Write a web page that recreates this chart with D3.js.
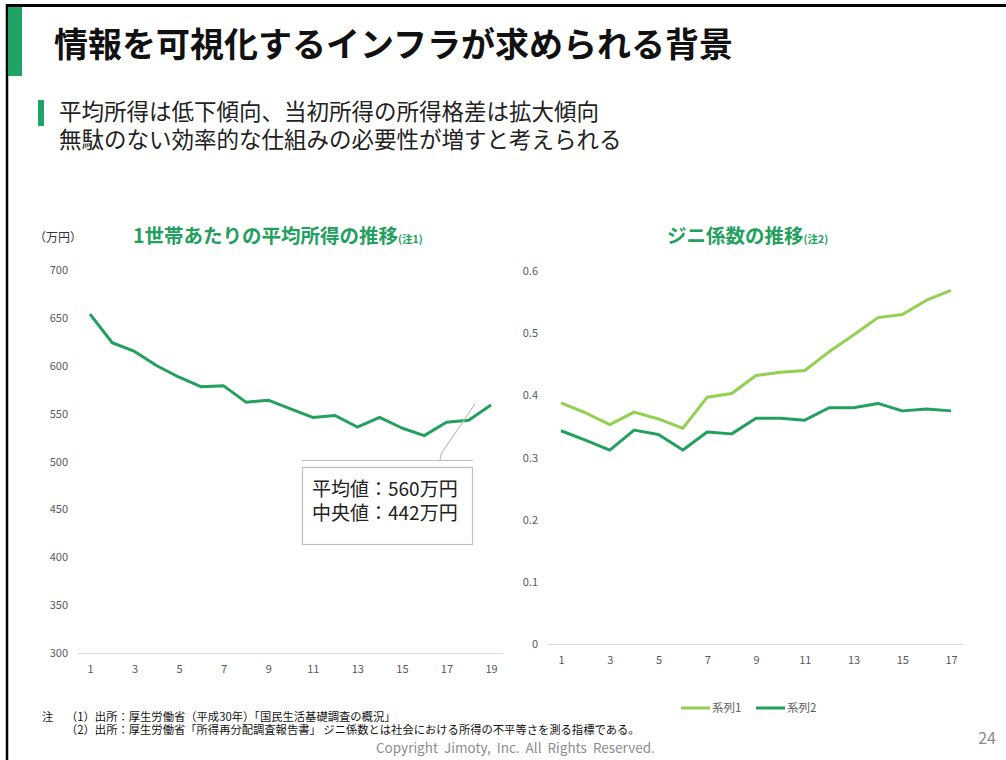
<!DOCTYPE html>
<html>
<head>
<meta charset="utf-8">
<script src="https://cdn.jsdelivr.net/npm/d3@7"></script>
<style>
  body { margin: 0; background: #fff; }
  svg text { font-family: "Noto Sans CJK JP", "Noto Sans", sans-serif; }
</style>
</head>
<body>
<svg id="slide" width="1006" height="760"></svg>
<script>
// left chart: average household income (万円)
var incomeYears = d3.range(1, 20);
var incomeValues = [654, 624, 615, 600, 588, 578, 579, 562, 564, 555, 546, 548, 536, 546, 535, 527, 541, 543, 559];
var incomeTicks = [300, 350, 400, 450, 500, 550, 600, 650, 700];

// right chart: gini coefficient
var giniYears = d3.range(1, 18);
var giniSeries1 = [0.388, 0.372, 0.353, 0.373, 0.362, 0.347, 0.397, 0.403, 0.432, 0.437, 0.440, 0.470, 0.497, 0.525, 0.530, 0.553, 0.569];
var giniSeries2 = [0.343, 0.328, 0.312, 0.344, 0.337, 0.312, 0.341, 0.338, 0.363, 0.363, 0.360, 0.380, 0.380, 0.387, 0.375, 0.378, 0.375];
var giniTicks = [0, 0.1, 0.2, 0.3, 0.4, 0.5, 0.6];
var seriesNames = ['系列1', '系列2'];

var green = '#22a05d';
var lightGreen = '#92d050';
var axisGray = '#d9d9d9';
var labelGray = '#595959';

var svg = d3.select('#slide');

// frame
svg.append('line').attr('x1', 6).attr('x2', 1006).attr('y1', 5.5).attr('y2', 5.5)
  .attr('stroke', '#000').attr('stroke-width', 3);
svg.append('line').attr('x1', 7).attr('x2', 7).attr('y1', 4).attr('y2', 760)
  .attr('stroke', '#000').attr('stroke-width', 2.5);
svg.append('rect').attr('x', 8).attr('y', 7).attr('width', 14).attr('height', 69).attr('fill', '#21a366');

// heading
svg.append('text').attr('x', 54).attr('y', 57)
  .attr('font-size', 34).attr('font-weight', 'bold').attr('fill', '#111')
  .text('情報を可視化するインフラが求められる背景');

svg.append('rect').attr('x', 38).attr('y', 100).attr('width', 6).attr('height', 26).attr('fill', '#21a366');
var sub = svg.append('text').attr('font-size', 22.5).attr('fill', '#222');
sub.append('tspan').attr('x', 59).attr('y', 120).text('平均所得は低下傾向、当初所得の所得格差は拡大傾向');
sub.append('tspan').attr('x', 59).attr('y', 148).text('無駄のない効率的な仕組みの必要性が増すと考えられる');

// ---- left chart ----
var x1 = d3.scaleLinear().domain([1, 19]).range([90, 491]);
var y1 = d3.scaleLinear().domain([300, 700]).range([653, 270]);

svg.append('text').attr('x', 34).attr('y', 242).attr('font-size', 12).attr('fill', '#333').text('（万円）');

var t1 = svg.append('text').attr('x', 133).attr('y', 243).attr('font-weight', 'bold').attr('fill', green);
t1.append('tspan').attr('font-size', 19.5).text('1世帯あたりの平均所得の推移');
t1.append('tspan').attr('font-size', 10.5).text('(注1)');

var gy1 = svg.append('g').attr('transform', 'translate(68,0)')
  .call(d3.axisLeft(y1).tickValues(incomeTicks).tickSize(0).tickPadding(0));
var gx1 = svg.append('g').attr('transform', 'translate(0,653)')
  .call(d3.axisBottom(x1).tickValues(d3.range(1, 20, 2)).tickSize(0).tickPadding(12));
gx1.select('.domain').attr('d', 'M78,0.5H503').attr('stroke', axisGray);
gy1.select('.domain').remove();

svg.append('path').datum(incomeValues)
  .attr('fill', 'none').attr('stroke', green).attr('stroke-width', 3).attr('stroke-linejoin', 'round')
  .attr('d', d3.line().x(function(d, i){ return x1(incomeYears[i]); }).y(function(d){ return y1(d); }));

// callout
svg.append('path').attr('d', 'M302,460.5H473M440,460.5L441,454L475,404')
  .attr('fill', 'none').attr('stroke', '#bfbfbf').attr('stroke-width', 1.2);
svg.append('rect').attr('x', 302.5).attr('y', 467.5).attr('width', 170).attr('height', 77)
  .attr('fill', '#fff').attr('stroke', '#bfbfbf').attr('stroke-width', 1.2);
var callout = svg.append('text').attr('font-size', 19).attr('fill', '#222');
callout.append('tspan').attr('x', 312).attr('y', 496).text('平均値：560万円');
callout.append('tspan').attr('x', 312).attr('y', 520).text('中央値：442万円');

// ---- right chart ----
var x2 = d3.scaleLinear().domain([1, 17]).range([561, 951]);
var y2 = d3.scaleLinear().domain([0, 0.6]).range([644, 271]);

var t2 = svg.append('text').attr('x', 667).attr('y', 243).attr('font-weight', 'bold').attr('fill', green);
t2.append('tspan').attr('font-size', 19.5).text('ジニ係数の推移');
t2.append('tspan').attr('font-size', 10.5).text('(注2)');

var gy2 = svg.append('g').attr('transform', 'translate(538,0)')
  .call(d3.axisLeft(y2).tickValues(giniTicks).tickFormat(d3.format('~g')).tickSize(0).tickPadding(0));
gy2.select('.domain').remove();
var gx2 = svg.append('g').attr('transform', 'translate(0,644)')
  .call(d3.axisBottom(x2).tickValues(d3.range(1, 18, 2)).tickSize(0).tickPadding(12));
gx2.select('.domain').attr('d', 'M547,0.5H963').attr('stroke', axisGray);
svg.selectAll('.tick text').attr('fill', labelGray).attr('font-size', 11)
  .attr('font-family', '"Noto Sans", sans-serif');

var giniLine = d3.line().x(function(d, i){ return x2(giniYears[i]); }).y(function(d){ return y2(d); });
[giniSeries1, giniSeries2].forEach(function(s, i){
  svg.append('path').datum(s)
    .attr('fill', 'none').attr('stroke', i === 0 ? lightGreen : green)
    .attr('stroke-width', 3).attr('stroke-linejoin', 'round')
    .attr('d', giniLine);
});

// legend
var legend = svg.append('g').attr('transform', 'translate(681,708)');
seriesNames.forEach(function(name, i){
  var g = legend.append('g').attr('transform', 'translate(' + (i * 75) + ',0)');
  g.append('line').attr('x1', 0).attr('x2', 29).attr('y1', 0).attr('y2', 0)
    .attr('stroke', i === 0 ? lightGreen : green).attr('stroke-width', 3);
  g.append('text').attr('x', 31).attr('y', 4).attr('font-size', 11.5).attr('fill', labelGray).text(name);
});

// notes
svg.append('text').attr('x', 42).attr('y', 721).attr('font-size', 11.3).attr('fill', '#111').text('注');
var notes = svg.append('text').attr('font-size', 11.3).attr('fill', '#111');
notes.append('tspan').attr('x', 66).attr('y', 721)
  .text('（1）出所：厚生労働省（平成30年）「国民生活基礎調査の概況」');
notes.append('tspan').attr('x', 66).attr('y', 734)
  .text('（2）出所：厚生労働省「所得再分配調査報告書」 ジニ係数とは社会における所得の不平等さを測る指標である。');

svg.append('text').attr('x', 376).attr('y', 753).attr('font-size', 13.5).attr('fill', '#8c8c8c')
  .attr('font-family', '"Noto Sans", sans-serif').attr('word-spacing', 3)
  .text('Copyright Jimoty, Inc. All Rights Reserved.');
svg.append('text').attr('x', 996).attr('y', 744).attr('text-anchor', 'end').attr('font-size', 16).attr('fill', '#8c8c8c')
  .attr('font-family', '"Noto Sans", sans-serif').text('24');
</script>
</body>
</html>
